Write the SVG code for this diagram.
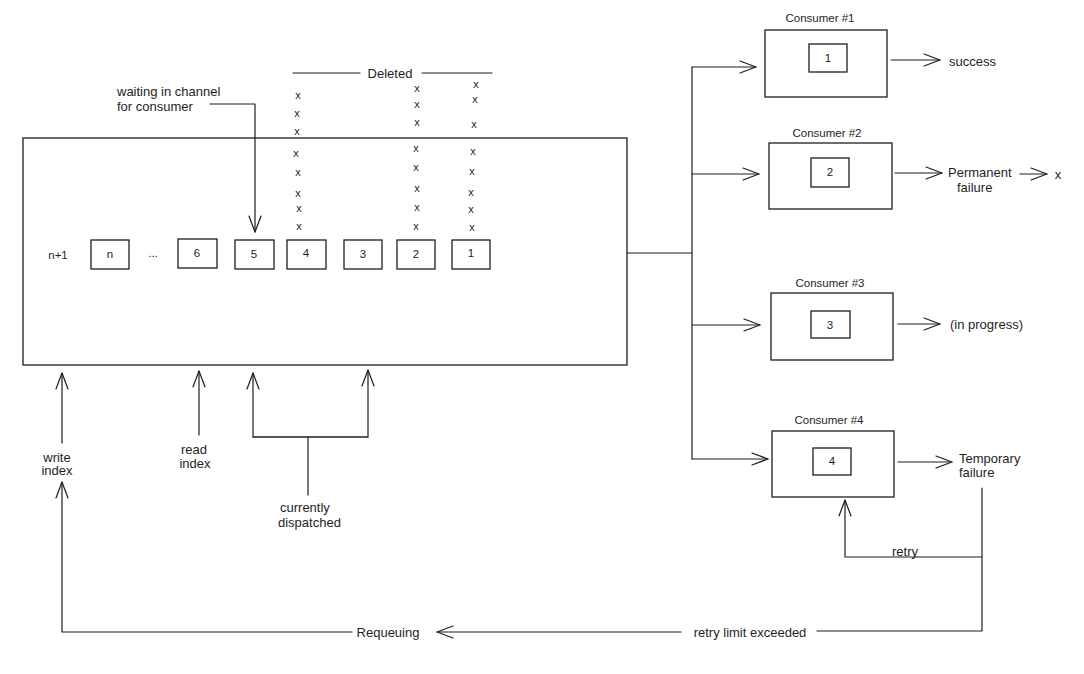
<svg xmlns="http://www.w3.org/2000/svg" width="1084" height="674" viewBox="0 0 1084 674">
<style>
.ln{fill:none;stroke:#1e1e1e;stroke-width:1.2;stroke-linecap:round;stroke-linejoin:round}
.bx{fill:none;stroke:#1e1e1e;stroke-width:1.3}
.t{font-family:"Liberation Sans",Arial,sans-serif;font-size:11.5px;fill:#1e1e1e}
.l{font-size:13px}
.m{text-anchor:middle;dominant-baseline:central}
.x{font-family:"Liberation Sans",Arial,sans-serif;font-size:11px;fill:#1e1e1e;text-anchor:middle;dominant-baseline:central}
</style>
<defs>
<marker id="ah" viewBox="-18 -8 20 16" refX="0" refY="0" markerWidth="20" markerHeight="16" markerUnits="userSpaceOnUse" orient="auto" overflow="visible">
<path d="M-16,-6 L0,0 L-16,6" fill="none" stroke="#1e1e1e" stroke-width="1.2" stroke-linecap="round" stroke-linejoin="round"/>
</marker>
</defs>
<rect width="1084" height="674" fill="#ffffff"/>

<g id="channel">
<rect class="bx" x="23" y="138" width="604" height="227"/>
<text class="t m" x="58" y="255">n+1</text>
<text class="t m" x="153" y="253">...</text>
</g>
<g id="slot-n"><rect class="bx" x="91" y="240" width="38" height="29"/><text class="t m" x="110" y="254">n</text></g>
<g id="slot-6"><rect class="bx" x="178" y="239" width="39" height="29"/><text class="t m" x="197" y="253">6</text></g>
<g id="slot-5"><rect class="bx" x="235" y="240" width="39" height="29"/><text class="t m" x="254" y="254">5</text></g>
<g id="slot-4"><rect class="bx" x="287" y="240" width="39" height="29"/><text class="t m" x="306" y="253">4</text></g>
<g id="slot-3"><rect class="bx" x="344" y="240" width="38" height="29"/><text class="t m" x="363" y="254">3</text></g>
<g id="slot-2"><rect class="bx" x="397" y="240" width="38" height="29"/><text class="t m" x="416" y="254">2</text></g>
<g id="slot-1"><rect class="bx" x="452" y="240" width="38" height="29"/><text class="t m" x="471" y="253">1</text></g>

<g id="deleted-marks">
<text class="t l m" x="390" y="73">Deleted</text>
<text class="x" x="298" y="95">x</text><text class="x" x="297" y="113">x</text><text class="x" x="297" y="131">x</text><text class="x" x="296" y="153">x</text><text class="x" x="298" y="172">x</text><text class="x" x="298" y="193">x</text><text class="x" x="299" y="208">x</text><text class="x" x="299" y="226">x</text>
<text class="x" x="417" y="88">x</text><text class="x" x="417" y="104">x</text><text class="x" x="417" y="122">x</text><text class="x" x="416" y="148">x</text><text class="x" x="416" y="167">x</text><text class="x" x="417" y="188">x</text><text class="x" x="417" y="207">x</text><text class="x" x="416" y="226">x</text>
<text class="x" x="476" y="84">x</text><text class="x" x="475" y="99">x</text><text class="x" x="474" y="124">x</text><text class="x" x="473" y="151">x</text><text class="x" x="472" y="171">x</text><text class="x" x="471" y="192">x</text><text class="x" x="471" y="209">x</text><text class="x" x="472" y="227">x</text>
</g>

<g id="consumer1">
<text class="t m" x="820" y="18">Consumer #1</text>
<rect class="bx" x="765" y="30" width="122" height="67"/>
<rect class="bx" x="809" y="44" width="38" height="28"/>
<text class="t m" x="828" y="58">1</text>
</g>
<g id="consumer2">
<text class="t m" x="827" y="133">Consumer #2</text>
<rect class="bx" x="769" y="143" width="123" height="66"/>
<rect class="bx" x="811" y="158" width="38" height="29"/>
<text class="t m" x="830" y="172">2</text>
</g>
<g id="consumer3">
<text class="t m" x="830" y="283">Consumer #3</text>
<rect class="bx" x="771" y="293" width="122" height="67"/>
<rect class="bx" x="811" y="311" width="39" height="27"/>
<text class="t m" x="830" y="325">3</text>
</g>
<g id="consumer4">
<text class="t m" x="829" y="420">Consumer #4</text>
<rect class="bx" x="772" y="431" width="122" height="66"/>
<rect class="bx" x="813" y="448" width="38" height="27"/>
<text class="t m" x="832" y="461">4</text>
</g>

<g id="labels">
<text class="t l" x="117" y="96">waiting in channel</text>
<text class="t l" x="117" y="111">for consumer</text>
<text class="t l m" x="57" y="457">write</text>
<text class="t l m" x="57" y="470">index</text>
<text class="t l m" x="194" y="449">read</text>
<text class="t l m" x="195" y="463">index</text>
<text class="t l" x="280" y="512">currently</text>
<text class="t l" x="278" y="527">dispatched</text>
<text class="t l" x="949" y="66">success</text>
<text class="t l" x="948" y="177">Permanent</text>
<text class="t l" x="957" y="192">failure</text>
<text class="t l m" x="1058" y="174">x</text>
<text class="t l" x="950" y="329">(in progress)</text>
<text class="t l" x="959" y="463">Temporary</text>
<text class="t l" x="959" y="477">failure</text>
<text class="t l m" x="905" y="551">retry</text>
<text class="t l m" x="388" y="632">Requeuing</text>
<text class="t l m" x="750" y="632">retry limit exceeded</text>
</g>

<g id="connectors">
<path class="ln" d="M293,73 H360 M422,73 H492"/>
<path class="ln" d="M210,104 H255 V232" marker-end="url(#ah)"/>
<path class="ln" d="M62,443 V373" marker-end="url(#ah)"/>
<path class="ln" d="M199,435 V371" marker-end="url(#ah)"/>
<path class="ln" d="M368,437 H253 V373" marker-end="url(#ah)"/>
<path class="ln" d="M253,437 H368 V370" marker-end="url(#ah)"/>
<path class="ln" d="M308,437 V495"/>
<path class="ln" d="M627,253 H692"/>
<path class="ln" d="M692,67 V459"/>
<path class="ln" d="M692,67 H756" marker-end="url(#ah)"/>
<path class="ln" d="M692,174 H759" marker-end="url(#ah)"/>
<path class="ln" d="M692,325 H760" marker-end="url(#ah)"/>
<path class="ln" d="M692,459 H768" marker-end="url(#ah)"/>
<path class="ln" d="M891,60 H940" marker-end="url(#ah)"/>
<path class="ln" d="M895,173 H942" marker-end="url(#ah)"/>
<path class="ln" d="M1020,174 H1047" marker-end="url(#ah)"/>
<path class="ln" d="M898,324 H940" marker-end="url(#ah)"/>
<path class="ln" d="M898,462 H952" marker-end="url(#ah)"/>
<path class="ln" d="M982,488 V631 H817"/>
<path class="ln" d="M982,557 H845 V500" marker-end="url(#ah)"/>
<path class="ln" d="M681,632 H437" marker-end="url(#ah)"/>
<path class="ln" d="M352,632 H62 V482" marker-end="url(#ah)"/>
</g>
</svg>
